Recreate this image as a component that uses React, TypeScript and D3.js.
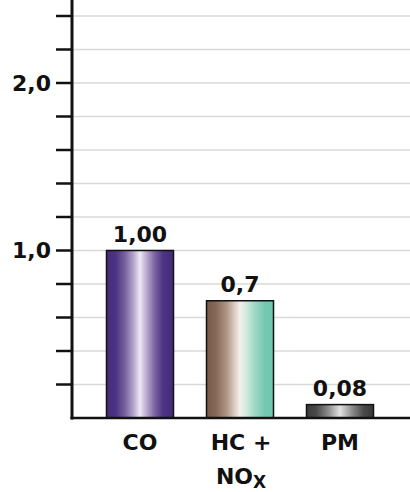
import React from "react";
import * as d3 from "d3";

const categories = ["CO", "HC + NOx", "PM"];
const values = [1.0, 0.7, 0.08];
const valueLabels = ["1,00", "0,7", "0,08"];
const yTicks = [0.2, 0.4, 0.6, 0.8, 1.0, 1.2, 1.4, 1.6, 1.8, 2.0, 2.2, 2.4];
const yTickLabels: Record<string, string> = { "1": "1,0", "2": "2,0" };

const gradients = [
  {
    id: "g-co",
    stops: [
      [0, "#452c7a"],
      [0.14, "#4d3483"],
      [0.28, "#7a62a0"],
      [0.4, "#b3a3c8"],
      [0.5, "#efe9f4"],
      [0.6, "#b8a8cc"],
      [0.72, "#7c64a2"],
      [0.84, "#4e3584"],
      [1, "#432b79"],
    ],
  },
  {
    id: "g-hc",
    stops: [
      [0, "#795846"],
      [0.14, "#86685a"],
      [0.3, "#ae9584"],
      [0.42, "#dccdc2"],
      [0.5, "#f4f0ea"],
      [0.6, "#cfe9df"],
      [0.72, "#9fd8c6"],
      [0.86, "#76c9b1"],
      [1, "#6fc6ae"],
    ],
  },
  {
    id: "g-pm",
    stops: [
      [0, "#3a3a3a"],
      [0.15, "#4a4a4a"],
      [0.32, "#8a8a8a"],
      [0.5, "#e2e2e2"],
      [0.68, "#8c8c8c"],
      [0.85, "#4a4a4a"],
      [1, "#383838"],
    ],
  },
];

const W = 410;
const H = 492;
const axisX = 72;
const baseY = 418;
const FONT = "'DejaVu Sans', sans-serif";

export default function App() {
  const y = d3.scaleLinear().domain([0, 2.5]).range([baseY, baseY - 2.5 * 167.5]);
  const x = d3
    .scaleBand<string>()
    .domain(categories)
    .range([90, 390])
    .paddingInner(0.33)
    .paddingOuter(0.165);

  return (
    <svg
      width={W}
      height={H}
      style={{ position: "absolute", left: 0, top: 0, background: "#fff" }}
    >
      <defs>
        {gradients.map((g) => (
          <linearGradient key={g.id} id={g.id} x1="0" x2="1" y1="0" y2="0">
            {g.stops.map(([o, c], i) => (
              <stop key={i} offset={o as number} stopColor={c as string} />
            ))}
          </linearGradient>
        ))}
      </defs>

      {/* gridlines */}
      {yTicks.map((t) => (
        <line
          key={"g" + t}
          x1={axisX}
          x2={W}
          y1={y(t)}
          y2={y(t)}
          stroke="#d9d9d9"
          strokeWidth={1.5}
        />
      ))}

      {/* bars */}
      {categories.map((c, i) => (
        <g key={c}>
          <rect
            x={x(c)}
            y={y(values[i])}
            width={x.bandwidth()}
            height={baseY - y(values[i])}
            fill={`url(#${gradients[i].id})`}
            stroke="#111"
            strokeWidth={1.5}
          />
          <text
            x={(x(c) as number) + x.bandwidth() / 2}
            y={y(values[i]) - 9}
            textAnchor="middle"
            fontFamily={FONT}
            fontWeight="bold"
            fontSize={22}
            fill="#111"
          >
            {valueLabels[i]}
          </text>
        </g>
      ))}

      {/* y axis */}
      <line x1={axisX} x2={axisX} y1={0} y2={baseY + 1.5} stroke="#111" strokeWidth={3} />
      {yTicks.map((t) => (
        <g key={"t" + t}>
          <line x1={56} x2={axisX} y1={y(t)} y2={y(t)} stroke="#111" strokeWidth={2.5} />
          {yTickLabels[String(t)] && (
            <text
              x={51}
              y={y(t)}
              dy="0.36em"
              textAnchor="end"
              fontFamily={FONT}
              fontWeight="bold"
              fontSize={22}
              fill="#111"
            >
              {yTickLabels[String(t)]}
            </text>
          )}
        </g>
      ))}

      {/* x axis */}
      <line x1={axisX - 1.5} x2={W} y1={baseY} y2={baseY} stroke="#111" strokeWidth={2.5} />

      {/* category labels */}
      {categories.map((c) => {
        const cx = (x(c) as number) + x.bandwidth() / 2;
        const common = {
          textAnchor: "middle" as const,
          fontFamily: FONT,
          fontWeight: "bold",
          fontSize: 22,
          fill: "#111",
        };
        if (c === "HC + NOx") {
          return (
            <g key={c}>
              <text x={cx + 1} y={450} {...common}>
                HC +
              </text>
              <text x={cx + 1} y={484} {...common}>
                NO
                <tspan fontSize={17} dy={4}>
                  X
                </tspan>
              </text>
            </g>
          );
        }
        return (
          <text key={c} x={cx} y={450} {...common}>
            {c}
          </text>
        );
      })}
    </svg>
  );
}
